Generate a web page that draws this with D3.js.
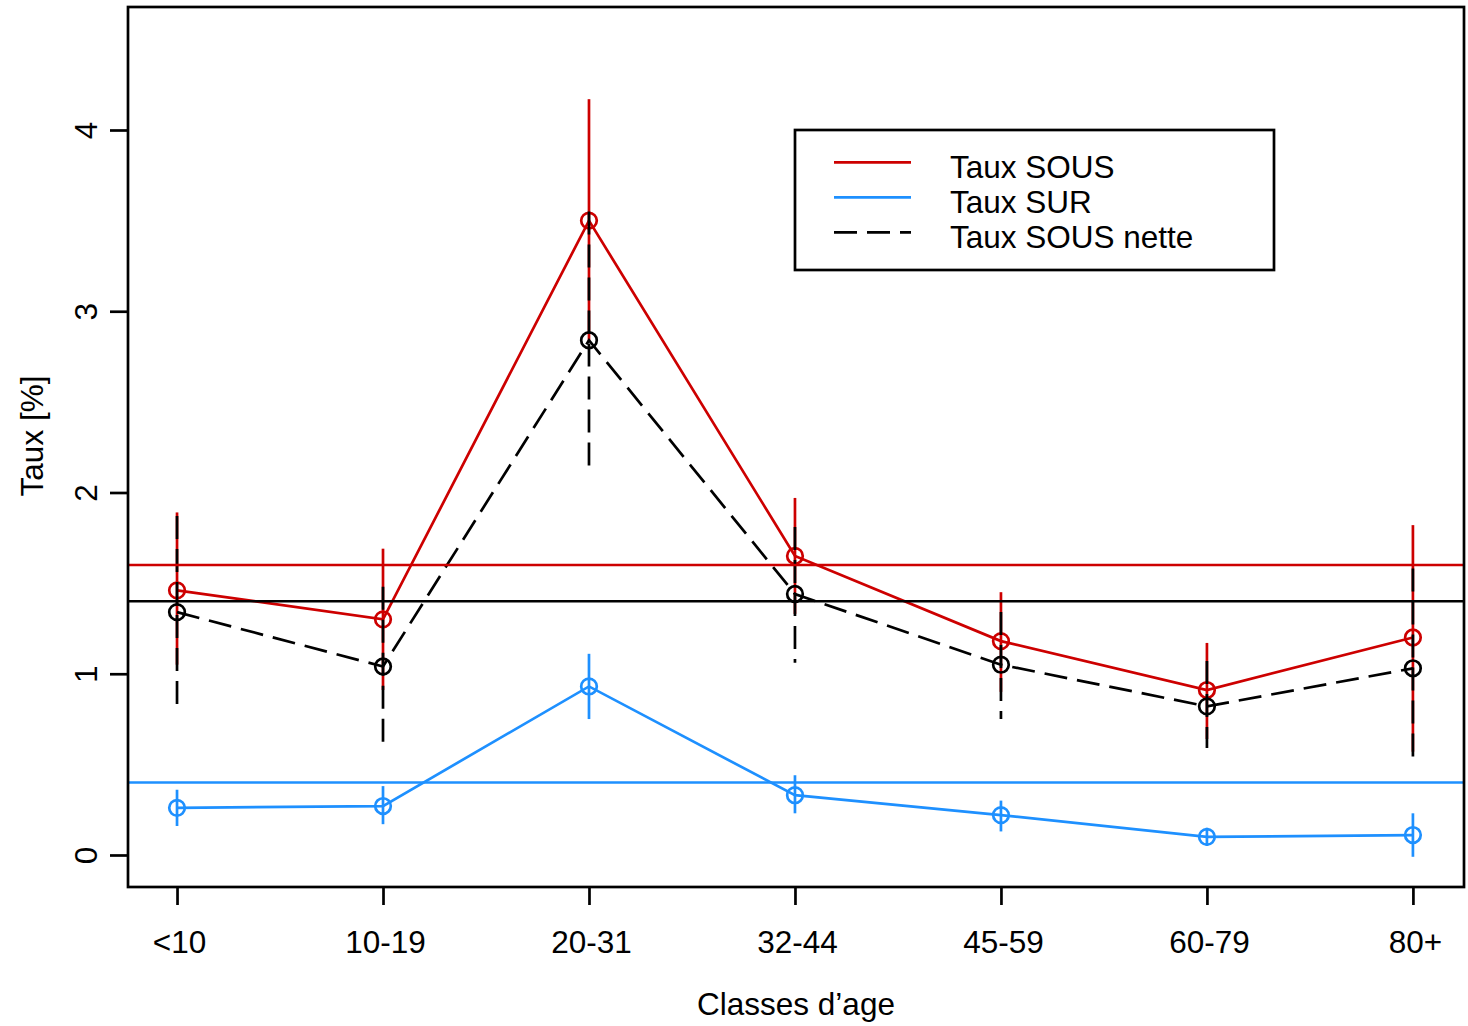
<!DOCTYPE html>
<html>
<head>
<meta charset="utf-8">
<script src="https://cdn.jsdelivr.net/npm/d3@7"></script>
<style>
  body { margin: 0; background: #fff; }
  text { font-family: "Liberation Sans", Arial, Helvetica, sans-serif; fill: #000; }
</style>
</head>
<body>
<div id="chart"></div>
<script>
// age classes on the x axis
var categories = ["<10", "10-19", "20-31", "32-44", "45-59", "60-79", "80+"];

// Taux SOUS (red) with interval
var sous = [1.46, 1.30, 3.50, 1.65, 1.18, 0.91, 1.20];
var sousLo = [1.05, 0.91, 2.83, 1.33, 0.90, 0.64, 0.57];
var sousHi = [1.89, 1.69, 4.17, 1.97, 1.45, 1.17, 1.82];

// Taux SUR (blue) with interval
var sur = [0.26, 0.27, 0.93, 0.33, 0.22, 0.10, 0.11];
var surLo = [0.16, 0.17, 0.75, 0.23, 0.13, 0.05, -0.01];
var surHi = [0.36, 0.38, 1.11, 0.44, 0.30, 0.15, 0.23];

// Taux SOUS nette (black dashed) with interval
var nette = [1.34, 1.04, 2.84, 1.44, 1.05, 0.82, 1.03];
var netteLo = [0.81, 0.60, 2.13, 1.06, 0.75, 0.59, 0.49];
var netteHi = [1.87, 1.48, 3.55, 1.81, 1.34, 1.07, 1.58];

// overall reference levels
var refSous = 1.6;
var refNette = 1.4;
var refSur = 0.4;

var yTicks = [0, 1, 2, 3, 4];

var svgWidth = 1468;
var svgHeight = 1026;

var plot = { left: 128, right: 1464, top: 7, bottom: 887 };

var red = "#CD0000";
var blue = "#1E90FF";
var dash = "23,10";
var lw = 2.7;
var fontSize = "31.5px";

var svg = d3.select("#chart")
  .append("svg")
  .attr("width", svgWidth)
  .attr("height", svgHeight);

var xScale = d3.scaleLinear()
  .domain([0.762, 7.248])
  .range([plot.left, plot.right]);

var yScale = d3.scaleLinear()
  .domain([-0.1766, 4.6786])
  .range([plot.bottom, plot.top]);

var idx = categories.map((c, i) => i + 1);

// horizontal reference lines
function hline(v, color) {
  svg.append("line")
    .attr("x1", plot.left)
    .attr("x2", plot.right)
    .attr("y1", yScale(v))
    .attr("y2", yScale(v))
    .attr("stroke", color)
    .attr("stroke-width", lw);
}

// one series: line, error bars, open circles
function drawSeries(vals, lo, hi, color, dashed) {
  var line = d3.line()
    .x((d, i) => xScale(i + 1))
    .y(d => yScale(d));

  svg.append("path")
    .datum(vals)
    .attr("d", line)
    .attr("fill", "none")
    .attr("stroke", color)
    .attr("stroke-width", lw)
    .attr("stroke-dasharray", dashed ? dash : null);

  svg.append("g").selectAll("line")
    .data(idx)
    .enter()
    .append("line")
    .attr("x1", d => xScale(d))
    .attr("x2", d => xScale(d))
    .attr("y1", d => yScale(hi[d - 1]))
    .attr("y2", d => yScale(lo[d - 1]))
    .attr("stroke", color)
    .attr("stroke-width", lw)
    .attr("stroke-dasharray", dashed ? dash : null);

  svg.append("g").selectAll("circle")
    .data(vals)
    .enter()
    .append("circle")
    .attr("cx", (d, i) => xScale(i + 1))
    .attr("cy", d => yScale(d))
    .attr("r", 7.8)
    .attr("fill", "none")
    .attr("stroke", color)
    .attr("stroke-width", lw);
}

drawSeries(sous, sousLo, sousHi, red, false);
drawSeries(sur, surLo, surHi, blue, false);
drawSeries(nette, netteLo, netteHi, "#000", true);

hline(refSous, red);
hline(refNette, "#000");
hline(refSur, blue);

// x axis
var bottomAxis = d3.axisBottom(xScale)
  .tickValues(idx)
  .tickFormat(d => categories[d - 1])
  .tickSize(18);

var xAxis = svg.append("g")
  .attr("transform", `translate(0, ${plot.bottom})`)
  .call(bottomAxis);

xAxis.select(".domain").remove();
xAxis.selectAll("line").attr("stroke-width", lw);
xAxis.selectAll("text")
  .attr("x", 2)
  .attr("y", 66)
  .attr("dy", null)
  .style("font-size", fontSize)
  .style("font-family", "Liberation Sans, Arial, sans-serif");

// y axis
var leftAxis = d3.axisLeft(yScale)
  .tickValues(yTicks)
  .tickFormat(d3.format("d"))
  .tickSize(18);

var yAxis = svg.append("g")
  .attr("transform", `translate(${plot.left}, 0)`)
  .call(leftAxis);

yAxis.select(".domain").remove();
yAxis.selectAll("line").attr("stroke-width", lw);
yAxis.selectAll("text")
  .attr("x", 0)
  .attr("y", -31)
  .attr("dy", null)
  .attr("transform", "rotate(-90)")
  .attr("text-anchor", "middle")
  .style("font-size", fontSize)
  .style("font-family", "Liberation Sans, Arial, sans-serif");

// plot box
svg.append("rect")
  .attr("x", plot.left)
  .attr("y", plot.top)
  .attr("width", plot.right - plot.left)
  .attr("height", plot.bottom - plot.top)
  .attr("fill", "none")
  .attr("stroke", "#000")
  .attr("stroke-width", lw);

// axis titles
svg.append("text")
  .attr("x", (plot.left + plot.right) / 2)
  .attr("y", 1015)
  .attr("text-anchor", "middle")
  .style("font-size", fontSize)
  .text("Classes d’age");

svg.append("text")
  .attr("transform", "rotate(-90)")
  .attr("x", -436)
  .attr("y", 43)
  .attr("text-anchor", "middle")
  .style("font-size", fontSize)
  .text("Taux [%]");

// legend
var legendItems = [
  { label: "Taux SOUS", color: red, dashed: false },
  { label: "Taux SUR", color: blue, dashed: false },
  { label: "Taux SOUS nette", color: "#000", dashed: true }
];

var legend = svg.append("g");

legend.append("rect")
  .attr("x", 795)
  .attr("y", 130)
  .attr("width", 479)
  .attr("height", 140)
  .attr("fill", "#fff")
  .attr("stroke", "#000")
  .attr("stroke-width", lw);

legendItems.forEach(function(item, i) {
  var ly = 162.3 + i * 35;
  legend.append("line")
    .attr("x1", 834)
    .attr("x2", 911)
    .attr("y1", ly)
    .attr("y2", ly)
    .attr("stroke", item.color)
    .attr("stroke-width", lw)
    .attr("stroke-dasharray", item.dashed ? dash : null);
  legend.append("text")
    .attr("x", 950)
    .attr("y", ly + 16)
    .style("font-size", fontSize)
    .text(item.label);
});
</script>
</body>
</html>
